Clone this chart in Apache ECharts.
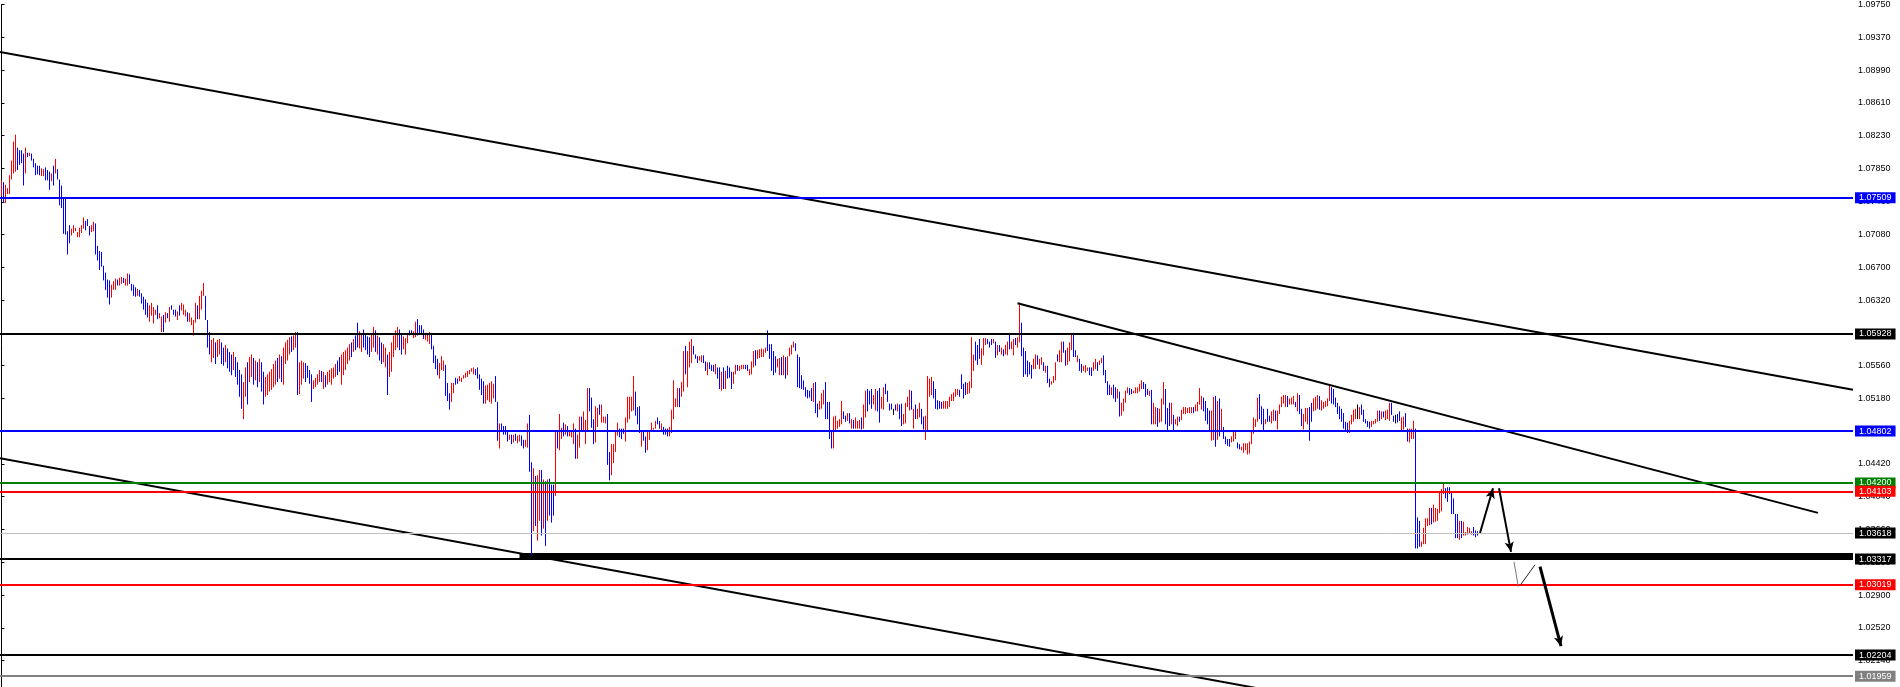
<!DOCTYPE html>
<html><head><meta charset="utf-8">
<script src="https://cdn.jsdelivr.net/npm/echarts@6/dist/echarts.min.js"></script>
<style>html,body{margin:0;padding:0;background:#fff}#c{width:1900px;height:687px}</style>
</head><body><div id="c"></div><script>
// ---- bar data (one entry per bar, oldest first) ----
const highs = [
1.0771,1.0769,1.0766,1.0762,1.0777,1.0794,1.0816,1.0824,1.0809,1.0806,
1.0806,1.0802,1.0809,1.0803,1.0803,1.0802,1.0796,1.0791,1.0788,1.0788,
1.0785,1.0784,1.0786,1.0783,1.0781,1.0779,1.0788,1.0796,1.0784,1.0772,
1.0765,1.0751,1.0750,1.0712,1.0719,1.0715,1.0719,1.0716,1.0711,1.0716,
1.0719,1.0728,1.0724,1.0726,1.0718,1.0719,1.0723,1.0721,1.0695,1.0689,
1.0688,1.0672,1.0664,1.0656,1.0655,1.0650,1.0654,1.0657,1.0656,1.0658,
1.0659,1.0658,1.0657,1.0663,1.0662,1.0651,1.0650,1.0647,1.0645,1.0644,
1.0640,1.0636,1.0633,1.0629,1.0626,1.0629,1.0624,1.0621,1.0626,1.0617,
1.0613,1.0615,1.0618,1.0617,1.0624,1.0626,1.0621,1.0621,1.0619,1.0626,
1.0629,1.0627,1.0621,1.0618,1.0617,1.0612,1.0609,1.0629,1.0626,1.0637,
1.0643,1.0652,1.0637,1.0609,1.0595,1.0586,1.0588,1.0583,1.0586,1.0587,
1.0583,1.0577,1.0580,1.0576,1.0572,1.0569,1.0572,1.0566,1.0560,1.0551,
1.0546,1.0537,1.0554,1.0560,1.0566,1.0569,1.0565,1.0562,1.0560,1.0564,
1.0560,1.0549,1.0543,1.0546,1.0549,1.0552,1.0558,1.0562,1.0565,1.0569,
1.0567,1.0577,1.0583,1.0586,1.0589,1.0590,1.0591,1.0595,1.0595,1.0560,
1.0562,1.0560,1.0559,1.0556,1.0551,1.0546,1.0539,1.0542,1.0546,1.0551,
1.0550,1.0549,1.0545,1.0549,1.0551,1.0553,1.0554,1.0558,1.0562,1.0566,
1.0569,1.0572,1.0574,1.0577,1.0581,1.0583,1.0587,1.0591,1.0606,1.0596,
1.0594,1.0598,1.0594,1.0590,1.0589,1.0592,1.0601,1.0597,1.0591,1.0589,
1.0583,1.0581,1.0577,1.0569,1.0572,1.0583,1.0591,1.0597,1.0601,1.0598,
1.0594,1.0590,1.0588,1.0594,1.0597,1.0597,1.0596,1.0607,1.0610,1.0603,
1.0603,1.0598,1.0594,1.0594,1.0595,1.0594,1.0579,1.0568,1.0564,1.0559,
1.0567,1.0562,1.0557,1.0536,1.0524,1.0536,1.0536,1.0542,1.0541,1.0544,
1.0542,1.0545,1.0548,1.0550,1.0551,1.0553,1.0554,1.0552,1.0554,1.0546,
1.0541,1.0538,1.0533,1.0534,1.0536,1.0538,1.0535,1.0544,1.0514,1.0489,
1.0489,1.0486,1.0486,1.0481,1.0476,1.0476,1.0476,1.0477,1.0475,1.0476,
1.0475,1.0470,1.0470,1.0489,1.0499,1.0444,1.0437,1.0428,1.0429,1.0435,
1.0435,1.0424,1.0422,1.0424,1.0425,1.0418,1.0418,1.0480,1.0481,1.0500,
1.0484,1.0490,1.0488,1.0486,1.0480,1.0480,1.0489,1.0483,1.0476,1.0497,
1.0497,1.0503,1.0493,1.0530,1.0530,1.0519,1.0494,1.0509,1.0507,1.0511,
1.0511,1.0497,1.0497,1.0500,1.0456,1.0465,1.0465,1.0481,1.0490,1.0483,
1.0483,1.0483,1.0496,1.0520,1.0520,1.0520,1.0544,1.0526,1.0508,1.0509,
1.0481,1.0480,1.0474,1.0480,1.0481,1.0490,1.0484,1.0492,1.0496,1.0492,
1.0489,1.0485,1.0483,1.0483,1.0485,1.0505,1.0539,1.0518,1.0530,1.0530,
1.0537,1.0573,1.0579,1.0573,1.0584,1.0587,1.0579,1.0569,1.0567,1.0567,
1.0568,1.0568,1.0561,1.0560,1.0560,1.0557,1.0557,1.0558,1.0554,1.0554,
1.0549,1.0554,1.0550,1.0556,1.0554,1.0549,1.0549,1.0557,1.0557,1.0556,
1.0557,1.0557,1.0557,1.0557,1.0552,1.0561,1.0573,1.0574,1.0574,1.0575,
1.0576,1.0575,1.0577,1.0597,1.0581,1.0581,1.0573,1.0567,1.0564,1.0565,
1.0566,1.0568,1.0566,1.0567,1.0577,1.0580,1.0584,1.0582,1.0569,1.0566,
1.0545,1.0539,1.0531,1.0528,1.0527,1.0530,1.0536,1.0537,1.0512,1.0515,
1.0524,1.0528,1.0537,1.0514,1.0514,1.0481,1.0497,1.0498,1.0492,1.0494,
1.0515,1.0503,1.0498,1.0501,1.0501,1.0494,1.0493,1.0496,1.0492,1.0493,
1.0496,1.0511,1.0527,1.0529,1.0527,1.0529,1.0522,1.0529,1.0527,1.0530,
1.0520,1.0531,1.0535,1.0527,1.0512,1.0512,1.0506,1.0511,1.0512,1.0511,
1.0512,1.0500,1.0513,1.0520,1.0528,1.0527,1.0506,1.0511,1.0506,1.0513,
1.0506,1.0497,1.0498,1.0544,1.0541,1.0543,1.0538,1.0529,1.0516,1.0515,
1.0514,1.0515,1.0515,1.0515,1.0520,1.0523,1.0525,1.0529,1.0529,1.0528,
1.0546,1.0535,1.0537,1.0536,1.0538,1.0589,1.0569,1.0584,1.0580,1.0587,
1.0576,1.0588,1.0588,1.0587,1.0584,1.0587,1.0587,1.0584,1.0580,1.0580,
1.0577,1.0575,1.0580,1.0584,1.0592,1.0584,1.0587,1.0588,1.0589,1.0629,
1.0606,1.0577,1.0573,1.0562,1.0560,1.0557,1.0564,1.0569,1.0568,1.0564,
1.0566,1.0560,1.0556,1.0556,1.0541,1.0538,1.0544,1.0560,1.0569,1.0574,
1.0584,1.0584,1.0574,1.0577,1.0583,1.0594,1.0594,1.0574,1.0568,1.0564,
1.0558,1.0556,1.0557,1.0554,1.0554,1.0554,1.0560,1.0564,1.0560,1.0562,
1.0565,1.0568,1.0551,1.0538,1.0534,1.0531,1.0534,1.0531,1.0529,1.0526,
1.0513,1.0518,1.0527,1.0531,1.0530,1.0529,1.0527,1.0531,1.0531,1.0535,
1.0539,1.0537,1.0535,1.0529,1.0527,1.0528,1.0513,1.0508,1.0507,1.0506,
1.0518,1.0537,1.0529,1.0507,1.0513,1.0513,1.0499,1.0494,1.0497,1.0497,
1.0505,1.0508,1.0508,1.0507,1.0508,1.0508,1.0508,1.0511,1.0514,1.0530,
1.0521,1.0519,1.0515,1.0507,1.0504,1.0504,1.0520,1.0521,1.0515,1.0518,
1.0506,1.0485,1.0474,1.0471,1.0471,1.0474,1.0481,1.0481,1.0467,1.0465,
1.0462,1.0466,1.0466,1.0466,1.0468,1.0480,1.0496,1.0494,1.0519,1.0523,
1.0509,1.0506,1.0494,1.0506,1.0498,1.0503,1.0505,1.0504,1.0504,1.0511,
1.0520,1.0522,1.0522,1.0521,1.0518,1.0519,1.0521,1.0514,1.0524,1.0522,
1.0506,1.0500,1.0507,1.0507,1.0508,1.0513,1.0518,1.0520,1.0522,1.0521,
1.0516,1.0514,1.0515,1.0518,1.0533,1.0531,1.0529,1.0519,1.0513,1.0509,
1.0506,1.0501,1.0491,1.0490,1.0492,1.0499,1.0505,1.0506,1.0511,1.0508,
1.0511,1.0505,1.0494,1.0492,1.0491,1.0492,1.0492,1.0494,1.0504,1.0504,
1.0503,1.0503,1.0504,1.0505,1.0513,1.0513,1.0498,1.0499,1.0500,1.0503,
1.0496,1.0497,1.0501,1.0483,1.0483,1.0483,1.0492,1.0483,1.0380,1.0376,
1.0352,1.0368,1.0379,1.0379,1.0391,1.0391,1.0395,1.0391,1.0390,1.0410,
1.0413,1.0421,1.0414,1.0415,1.0415,1.0410,1.0402,1.0384,1.0384,1.0376,
1.0376,1.0375,1.0363,1.0369,1.0368,1.0364,1.0369,1.0365,1.0364
];
const lows = [
1.0753,1.0745,1.0745,1.0755,1.0755,1.0772,1.0779,1.0781,1.0783,1.0789,
1.0791,1.0765,1.0779,1.0798,1.0799,1.0794,1.0786,1.0777,1.0778,1.0777,
1.0776,1.0776,1.0771,1.0771,1.0760,1.0770,1.0765,1.0779,1.0772,1.0742,
1.0739,1.0709,1.0708,1.0685,1.0698,1.0707,1.0710,1.0712,1.0705,1.0705,
1.0710,1.0715,1.0713,1.0718,1.0707,1.0711,1.0712,1.0685,1.0678,1.0667,
1.0671,1.0655,1.0644,1.0635,1.0627,1.0635,1.0644,1.0644,1.0649,1.0649,
1.0651,1.0652,1.0649,1.0649,1.0651,1.0643,1.0637,1.0636,1.0637,1.0636,
1.0628,1.0621,1.0615,1.0612,1.0607,1.0614,1.0605,1.0615,1.0610,1.0611,
1.0595,1.0595,1.0606,1.0611,1.0607,1.0621,1.0615,1.0613,1.0609,1.0614,
1.0620,1.0615,1.0613,1.0607,1.0607,1.0603,1.0591,1.0606,1.0610,1.0610,
1.0621,1.0637,1.0609,1.0577,1.0569,1.0560,1.0565,1.0558,1.0566,1.0569,
1.0558,1.0556,1.0560,1.0553,1.0549,1.0545,1.0551,1.0543,1.0534,1.0520,
1.0506,1.0494,1.0520,1.0511,1.0537,1.0543,1.0534,1.0539,1.0531,1.0537,
1.0526,1.0511,1.0520,1.0522,1.0526,1.0528,1.0531,1.0534,1.0537,1.0541,
1.0537,1.0534,1.0558,1.0562,1.0569,1.0572,1.0574,1.0577,1.0522,1.0523,
1.0534,1.0541,1.0537,1.0542,1.0535,1.0514,1.0529,1.0531,1.0534,1.0537,
1.0537,1.0529,1.0531,1.0534,1.0537,1.0534,1.0541,1.0543,1.0545,1.0549,
1.0534,1.0545,1.0551,1.0558,1.0562,1.0566,1.0572,1.0574,1.0577,1.0576,
1.0572,1.0577,1.0574,1.0569,1.0566,1.0572,1.0577,1.0572,1.0569,1.0562,
1.0558,1.0560,1.0554,1.0522,1.0543,1.0549,1.0566,1.0574,1.0577,1.0574,
1.0569,1.0575,1.0569,1.0582,1.0591,1.0592,1.0588,1.0589,1.0591,1.0594,
1.0592,1.0587,1.0586,1.0584,1.0581,1.0575,1.0559,1.0552,1.0545,1.0541,
1.0551,1.0550,1.0521,1.0515,1.0505,1.0514,1.0524,1.0534,1.0535,1.0538,
1.0537,1.0541,1.0542,1.0543,1.0546,1.0549,1.0546,1.0545,1.0541,1.0528,
1.0522,1.0512,1.0512,1.0516,1.0514,1.0512,1.0518,1.0514,1.0469,1.0460,
1.0481,1.0476,1.0476,1.0468,1.0470,1.0465,1.0467,1.0469,1.0466,1.0468,
1.0463,1.0460,1.0462,1.0461,1.0433,1.0334,1.0364,1.0370,1.0353,1.0376,
1.0359,1.0367,1.0347,1.0376,1.0382,1.0374,1.0382,1.0405,1.0460,1.0458,
1.0471,1.0474,1.0476,1.0474,1.0474,1.0473,1.0465,1.0448,1.0448,1.0461,
1.0480,1.0481,1.0465,1.0480,1.0503,1.0484,1.0465,1.0467,1.0485,1.0499,
1.0490,1.0490,1.0489,1.0441,1.0423,1.0429,1.0443,1.0456,1.0475,1.0473,
1.0471,1.0477,1.0468,1.0490,1.0494,1.0503,1.0504,1.0498,1.0488,1.0478,
1.0462,1.0469,1.0455,1.0458,1.0470,1.0481,1.0482,1.0483,1.0488,1.0483,
1.0481,1.0476,1.0476,1.0474,1.0474,1.0478,1.0494,1.0508,1.0508,1.0508,
1.0520,1.0526,1.0546,1.0531,1.0554,1.0559,1.0569,1.0564,1.0559,1.0562,
1.0560,1.0559,1.0550,1.0545,1.0552,1.0550,1.0549,1.0546,1.0541,1.0529,
1.0527,1.0529,1.0529,1.0541,1.0542,1.0529,1.0535,1.0546,1.0550,1.0550,
1.0552,1.0552,1.0552,1.0550,1.0545,1.0546,1.0554,1.0556,1.0564,1.0565,
1.0566,1.0566,1.0571,1.0573,1.0564,1.0550,1.0545,1.0548,1.0554,1.0545,
1.0545,1.0545,1.0541,1.0545,1.0567,1.0569,1.0577,1.0573,1.0531,1.0530,
1.0529,1.0528,1.0520,1.0518,1.0519,1.0515,1.0514,1.0501,1.0496,1.0505,
1.0506,1.0511,1.0494,1.0494,1.0471,1.0460,1.0460,1.0480,1.0483,1.0485,
1.0488,1.0494,1.0491,1.0492,1.0489,1.0483,1.0483,1.0483,1.0483,1.0483,
1.0482,1.0483,1.0496,1.0503,1.0511,1.0506,1.0511,1.0504,1.0503,1.0490,
1.0506,1.0505,1.0523,1.0514,1.0504,1.0505,1.0499,1.0504,1.0503,1.0494,
1.0486,1.0488,1.0489,1.0508,1.0504,1.0505,1.0483,1.0494,1.0494,1.0496,
1.0488,1.0482,1.0470,1.0480,1.0520,1.0522,1.0518,1.0506,1.0505,1.0506,
1.0506,1.0506,1.0506,1.0506,1.0508,1.0515,1.0515,1.0520,1.0522,1.0520,
1.0529,1.0518,1.0522,1.0523,1.0524,1.0530,1.0550,1.0562,1.0557,1.0564,
1.0557,1.0568,1.0580,1.0581,1.0577,1.0580,1.0582,1.0565,1.0568,1.0572,
1.0569,1.0567,1.0569,1.0568,1.0575,1.0575,1.0568,1.0580,1.0577,1.0583,
1.0567,1.0543,1.0546,1.0543,1.0546,1.0541,1.0552,1.0552,1.0557,1.0552,
1.0557,1.0550,1.0548,1.0536,1.0531,1.0534,1.0536,1.0539,1.0561,1.0560,
1.0560,1.0571,1.0556,1.0557,1.0561,1.0574,1.0566,1.0566,1.0560,1.0550,
1.0548,1.0550,1.0548,1.0550,1.0545,1.0544,1.0550,1.0552,1.0550,1.0557,
1.0559,1.0545,1.0536,1.0522,1.0522,1.0522,1.0518,1.0514,1.0518,1.0497,
1.0498,1.0503,1.0513,1.0524,1.0522,1.0523,1.0524,1.0524,1.0524,1.0526,
1.0529,1.0529,1.0520,1.0522,1.0521,1.0488,1.0488,1.0488,1.0485,1.0490,
1.0491,1.0511,1.0488,1.0480,1.0486,1.0488,1.0481,1.0488,1.0486,1.0491,
1.0493,1.0500,1.0500,1.0501,1.0501,1.0501,1.0501,1.0503,1.0503,1.0511,
1.0505,1.0503,1.0492,1.0488,1.0481,1.0469,1.0470,1.0462,1.0470,1.0474,
1.0481,1.0471,1.0465,1.0463,1.0462,1.0467,1.0468,1.0471,1.0460,1.0459,
1.0458,1.0455,1.0458,1.0453,1.0454,1.0465,1.0477,1.0485,1.0491,1.0494,
1.0488,1.0481,1.0488,1.0491,1.0491,1.0489,1.0492,1.0492,1.0482,1.0500,
1.0508,1.0512,1.0508,1.0508,1.0511,1.0511,1.0511,1.0508,1.0503,1.0500,
1.0486,1.0482,1.0491,1.0488,1.0469,1.0491,1.0503,1.0504,1.0506,1.0505,
1.0504,1.0506,1.0508,1.0509,1.0515,1.0512,1.0511,1.0508,1.0500,1.0494,
1.0491,1.0483,1.0480,1.0478,1.0478,1.0488,1.0491,1.0494,1.0494,1.0494,
1.0499,1.0491,1.0489,1.0485,1.0483,1.0485,1.0488,1.0489,1.0491,1.0492,
1.0494,1.0496,1.0493,1.0494,1.0492,1.0499,1.0491,1.0489,1.0490,1.0492,
1.0481,1.0482,1.0485,1.0468,1.0467,1.0471,1.0471,1.0344,1.0344,1.0346,
1.0346,1.0349,1.0349,1.0370,1.0371,1.0372,1.0374,1.0375,1.0376,1.0385,
1.0387,1.0407,1.0402,1.0398,1.0407,1.0384,1.0384,1.0356,1.0356,1.0354,
1.0356,1.0359,1.0359,1.0360,1.0361,1.0360,1.0359,1.0357,1.0359
];
// u = bull bar (red), d = bear bar (blue), n = unchanged (black)
const dirs =
"uduuuuuudd"+"ddududdddd"+"uudddududd"+"ddddduuuuu"+"uuddduuddd"+
"ddddduuudu"+"uduuddddud"+"dddduuuudu"+"udududddud"+"uuuduuuudu"+
"uuddduuduu"+"dduddduddd"+"duuduududu"+"dduuuuuudu"+"duuuuduudu"+
"uudddduuuu"+"duduuuuudd"+"uuuuududdu"+"udddduudud"+"duuduuuuud"+
"duuudduudd"+"dduuuddddu"+"uuddduuddu"+"uuuuuuuddd"+"dduuuuuddu"+
"ddddududuu"+"dduudduduu"+"dududddudu"+"ududuuuduu"+"duuuddduud"+
"uuudduuuud"+"dduuuuuddd"+"udduuuuudd"+"uddduuuuud"+"uuduuudddu"+
"uddudddudd"+"ududdduudu"+"uudduuuduu"+"uuuddddduu"+"duduuuuddd"+
"dddddduddu"+"uudddduuuu"+"uddududuuu"+"duuddduudd"+"uuddddndud"+
"duuuududuu"+"dduuuudddd"+"duuuuuuuud"+"ddduuuuddd"+"uuudddudud"+
"uduuduuduu"+"dddddduudu"+"ududduuudu"+"udduuuddud"+"duuudduudu"+
"udddduddud"+"uuuudduuuu"+"uddduduudu"+"uuddduduud"+"uuuuuuduuu"+
"udddduudud"+"udddduuudd"+"uuuuuuuuud"+"ddudduuduu"+"uuuduuudud"+
"duuudduuud"+"uuuuuddddd"+"dddduuuunu"+"ddddduuuud"+"uduuuddndd"+
"uudduuuddd"+"uuuuuduuuu"+"uudddddddu"+"duuuuuddd";

// ---- price axis tick labels ----
const yTicks = [1.09750,1.09370,1.08990,1.08610,1.08230,1.07850,1.07460,1.07080,1.06700,1.06320,
  1.05940,1.05560,1.05180,1.04800,1.04420,1.04040,1.03660,1.03280,1.02900,1.02520,1.02140];

// ---- horizontal price levels ----
const levelValues = [1.07509,1.05928,1.04802,1.04200,1.04103,1.03618,1.03317,1.03019,1.02204,1.01959];
const levelLineColors = ['#0000ff','#000000','#0000ff','#008000','#ff0000','#c0c0c0','#000000','#ff0000','#000000','#808080'];
const levelBoxColors  = ['#0000ff','#000000','#0000ff','#008000','#ff0000','#000000','#000000','#ff0000','#000000','#808080'];
const levelWidths     = [2,2,2,2,2,1,2,2,2,2];

// ---- trend lines [barIndex, price] ----
const trendUpperChannel = [[-0.75,1.09199],[925.75,1.05282]];
const trendLowerChannel = [[-0.75,1.04487],[637.75,1.01777]];
const trendFromPeak     = [[508,1.06285],[908.25,1.03853]];
// thick support band [fromBar, toBar, lowPrice, highPrice]
const supportBand = [259,925.75,1.03312,1.03386];
// projected path arrows [[bar, price],[bar, price]]
const pathArrows = [
  [[739.25,1.03620],[745.75,1.04138]],
  [[748.75,1.04138],[754.75,1.03401]],
  [[769.25,1.03228],[779.75,1.02306]]
];
const pathLinks = [
  [[756.25,1.03285],[758.4,1.02997]],
  [[759.6,1.03020],[766.75,1.03251]]
];

const bars = highs.map((h,i)=>[i, lows[i], h, dirs[i]==='u'?1:(dirs[i]==='d'?-1:0)]);

const chart = echarts.init(document.getElementById('c'));
const fontFam = 'Liberation Sans, Arial, sans-serif';
chart.setOption({
  animation:false,
  backgroundColor:'#ffffff',
  grid:{left:0,right:47,top:0,bottom:0,containLabel:false},
  xAxis:{type:'value',min:-0.75,max:925.75,show:false},
  yAxis:{type:'value',position:'right',min:1.01833,max:1.0975,
    splitLine:{show:false},
    axisLine:{show:true,lineStyle:{color:'#000',width:1}},
    axisTick:{show:true,inside:false,length:3,customValues:yTicks,lineStyle:{color:'#000'}},
    axisLabel:{show:true,customValues:yTicks,margin:5,fontSize:9,color:'#000',fontFamily:fontFam,
      formatter:v=>Number(v).toFixed(5)}
  },
  series:[
    {type:'custom',z:1,clip:true,silent:true,
     encode:{x:0,y:[1,2]},
     data:bars,
     renderItem:function(params,api){
       const i=api.value(0);
       const top=api.coord([i,api.value(2)]);
       const bot=api.coord([i,api.value(1)]);
       let y1=top[1], y2=bot[1];
       if(y2-y1<1){y2=y1+1;}
       const d=api.value(3);
       return {type:'line',shape:{x1:top[0],y1:y1,x2:top[0],y2:y2},
         style:{stroke:d>0?'#ff0000':(d<0?'#0000ff':'#000000'),lineWidth:1}};
     }},
    {type:'line',data:[],z:3,silent:true,
     markArea:{silent:true,itemStyle:{color:'#000000'},
       data:[[{coord:[supportBand[0],supportBand[3]]},{coord:[supportBand[1],supportBand[2]]}]]},
     markLine:{symbol:'none',silent:true,animation:false,precision:5,
       data:levelValues.map((v,k)=>({yAxis:v,
         lineStyle:{color:levelLineColors[k],width:levelWidths[k],type:'solid'},
         label:{show:true,position:'end',distance:2,formatter:v.toFixed(5),color:'#ffffff',
           backgroundColor:levelBoxColors[k],fontSize:9,fontFamily:fontFam,padding:[1,4,0,4],lineHeight:10}
       }))}
    },
    {type:'line',data:trendUpperChannel,z:4,silent:true,showSymbol:false,symbol:'none',
     lineStyle:{color:'#000',width:2}},
    {type:'line',data:trendLowerChannel,z:4,silent:true,showSymbol:false,symbol:'none',
     lineStyle:{color:'#000',width:2}},
    {type:'line',data:trendFromPeak,z:4,silent:true,showSymbol:false,symbol:'none',
     lineStyle:{color:'#000',width:2}},
    {type:'line',data:[],z:5,silent:true,
     markLine:{silent:true,animation:false,precision:5,symbol:['none','arrow'],symbolSize:[7,10],
       label:{show:false},
       data:[
         ...pathArrows.map((a,k)=>[{coord:a[0],lineStyle:{color:'#000',width:k===2?3:2,type:'solid'}},{coord:a[1]}]),
         ...pathLinks.map((a,k)=>[{coord:a[0],symbol:'none',lineStyle:{color:k===0?'#777':'#222',width:1,type:'solid'}},{coord:a[1],symbol:'none'}])
       ]}
    }
  ]
});
</script></body></html>
